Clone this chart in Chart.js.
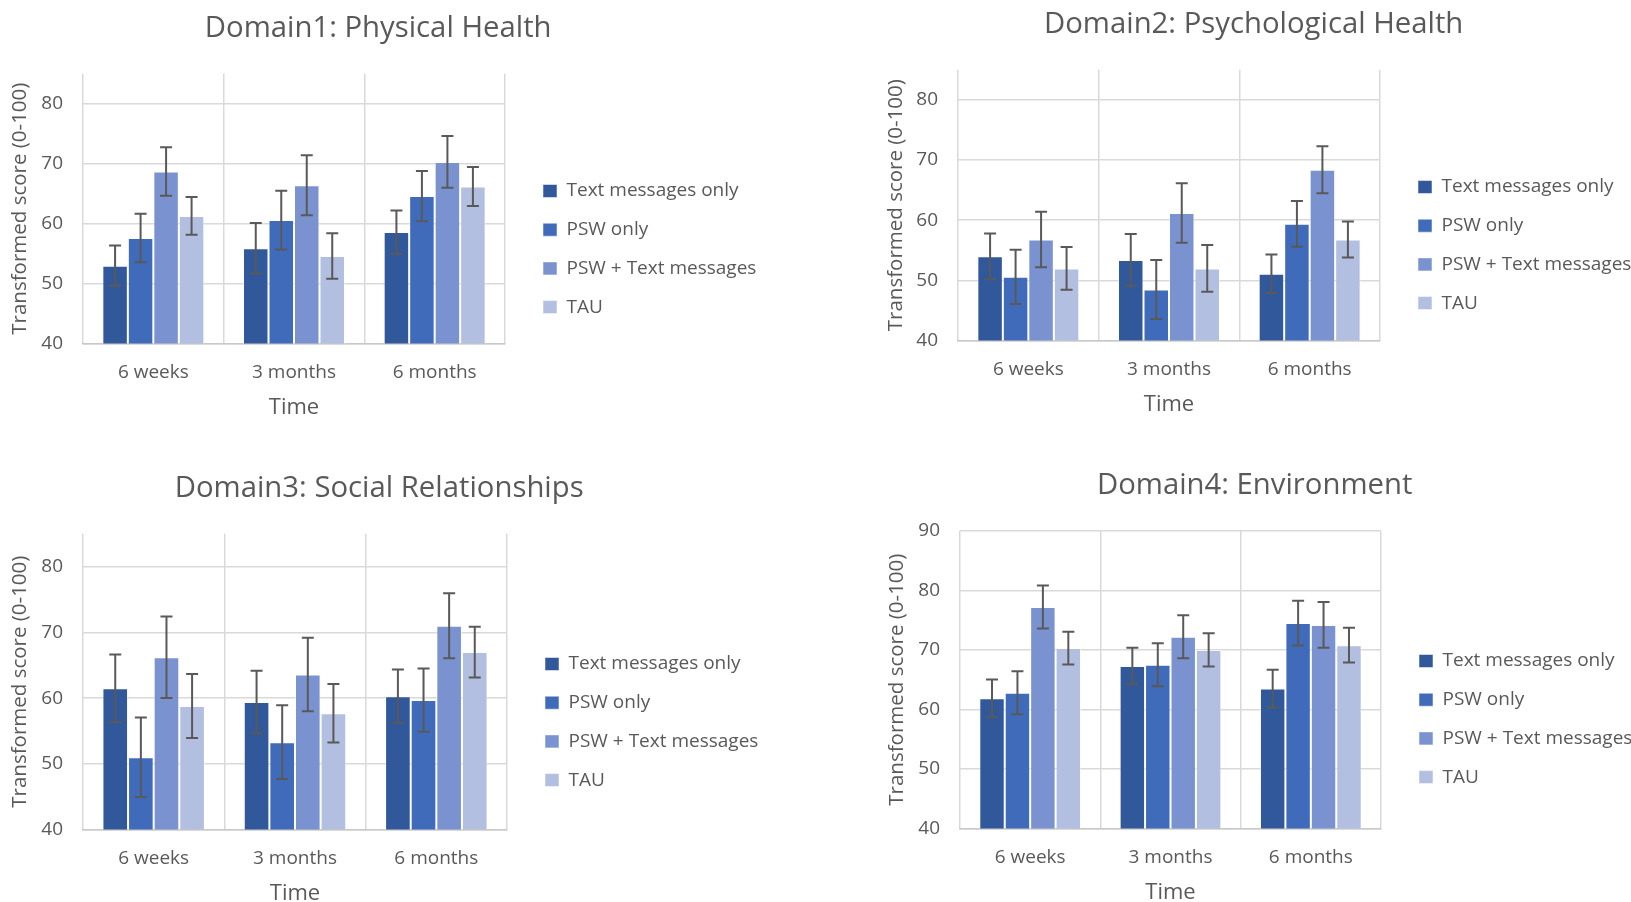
<!DOCTYPE html>
<html>
<head>
<meta charset="utf-8">
<script src="https://cdn.jsdelivr.net/npm/chart.js@4.4.1/dist/chart.umd.min.js"></script>
<style>
  body { margin: 0; background: #fff; overflow: hidden; width: 1631px; height: 902px; }
  canvas { position: absolute; }
</style>
</head>
<body>
<canvas id="c1"></canvas>
<canvas id="c2"></canvas>
<canvas id="c3"></canvas>
<canvas id="c4"></canvas>
<script>
const timepoints = ['6 weeks', '3 months', '6 months'];
const groups = ['Text messages only', 'PSW only', 'PSW + Text messages', 'TAU'];
const groupColors = ['#31589B', '#406BBA', '#7A93D0', '#B3BFE0'];
const yTickValues = [40, 50, 60, 70, 80, 90];

// rows = groups, columns = timepoints
const physicalMeans = [[53.0, 55.9, 58.6], [57.6, 60.6, 64.6], [68.7, 66.4, 70.3], [61.3, 54.6, 66.2]];
const physicalErr   = [[3.35, 4.2, 3.6], [4.05, 4.9, 4.2], [4.05, 5.0, 4.3], [3.15, 3.8, 3.25]];

const psychMeans = [[54.0, 53.4, 51.1], [50.6, 48.5, 59.4], [56.8, 61.2, 68.4], [52.0, 52.0, 56.8]];
const psychErr   = [[3.8, 4.3, 3.2], [4.5, 4.9, 3.8], [4.6, 4.95, 3.9], [3.55, 3.9, 3.0]];

const socialMeans = [[61.5, 59.4, 60.3], [51.0, 53.3, 59.7], [66.2, 63.6, 71.0], [58.8, 57.7, 67.0]];
const socialErr   = [[5.15, 4.75, 4.05], [6.05, 5.6, 4.8], [6.2, 5.6, 4.95], [4.85, 4.45, 3.85]];

const envMeans = [[61.9, 67.3, 63.5], [62.8, 67.5, 74.5], [77.2, 72.2, 74.2], [70.3, 70.0, 70.8]];
const envErr   = [[3.15, 3.05, 3.15], [3.6, 3.6, 3.75], [3.6, 3.6, 3.85], [2.75, 2.8, 2.9]];

const textColor = '#595959';
const gridColor = '#D9D9D9';
const fontFamily = "'Open Sans', sans-serif";

// draws the +/- bars on top of each bar using the chart's own y scale
const errorBars = {
  id: 'errorBars',
  afterDatasetsDraw(chart) {
    const ctx = chart.ctx;
    const y = chart.scales.y;
    ctx.save();
    ctx.strokeStyle = '#595959';
    ctx.lineWidth = 2;
    chart.data.datasets.forEach((ds, i) => {
      chart.getDatasetMeta(i).data.forEach((bar, j) => {
        const top = y.getPixelForValue(ds.data[j] + ds.errors[j]);
        const bot = y.getPixelForValue(ds.data[j] - ds.errors[j]);
        ctx.beginPath();
        ctx.moveTo(bar.x, top); ctx.lineTo(bar.x, bot);
        ctx.moveTo(bar.x - 6, top); ctx.lineTo(bar.x + 6, top);
        ctx.moveTo(bar.x - 6, bot); ctx.lineTo(bar.x + 6, bot);
        ctx.stroke();
      });
    });
    ctx.restore();
  }
};

// legendTop: empty legend title height that pushes the first legend row down
const panels = [
  { id: 'c1', title: 'Domain1: Physical Health', means: physicalMeans, errs: physicalErr, yMax: 85,
    left: 0, top: 0, w: 759, h: 421, padR: 2.7, yW: 83, gap: 18.3, legendTop: 161.8,
    titlePad: { top: 11.3, bottom: 27.3 } },
  { id: 'c2', title: 'Domain2: Psychological Health', means: psychMeans, errs: psychErr, yMax: 85,
    left: 876, top: 0, w: 756, h: 418, padR: 0.7, yW: 82, gap: 18.3, legendTop: 157.8,
    titlePad: { top: 7.3, bottom: 27.3 } },
  { id: 'c3', title: 'Domain3: Social Relationships', means: socialMeans, errs: socialErr, yMax: 85,
    left: 0, top: 450, w: 760, h: 457, padR: 1.7, yW: 83, gap: 18.3, legendTop: 184.8,
    titlePad: { top: 21.3, bottom: 27.3 } },
  { id: 'c4', title: 'Domain4: Environment', means: envMeans, errs: envErr, yMax: 90,
    left: 877, top: 450, w: 756, h: 456, padR: 0.7, yW: 83, gap: 18.3, legendTop: 181.8,
    titlePad: { top: 18.3, bottom: 27.3 } }
];

panels.forEach(p => {
  const canvas = document.getElementById(p.id);
  canvas.width = p.w;
  canvas.height = p.h;
  canvas.style.left = p.left + 'px';
  canvas.style.top = p.top + 'px';

  new Chart(canvas, {
    type: 'bar',
    data: {
      labels: timepoints,
      datasets: groups.map((g, i) => ({
        label: g,
        data: p.means[i],
        errors: p.errs[i],
        backgroundColor: groupColors[i],
        borderColor: 'rgba(255,255,255,0.5)',
        borderWidth: 1,
        categoryPercentage: 0.725,
        barPercentage: 1.0
      }))
    },
    options: {
      responsive: false,
      animation: false,
      layout: { padding: { left: 0, top: 0, bottom: 0, right: p.padR } },
      plugins: {
        title: {
          display: true,
          text: p.title,
          color: textColor,
          font: { family: fontFamily, size: 29.3, weight: 'normal' },
          padding: p.titlePad
        },
        legend: {
          position: 'right',
          align: 'start',
          maxWidth: 233,
          title: { display: true, text: '', font: { size: 10, lineHeight: 1 }, padding: { top: p.legendTop - 10, bottom: 0 } },
          labels: {
            color: textColor,
            font: { family: fontFamily, size: 19 },
            boxWidth: 14,
            boxHeight: 13,
            padding: 19.7
          }
        },
        tooltip: { enabled: false }
      },
      scales: {
        x: {
          grid: { color: gridColor, lineWidth: 1.5, drawTicks: false },
          border: { color: '#C8C8C8', width: 1.5 },
          ticks: { color: textColor, font: { family: fontFamily, size: 19 }, padding: 17.6 },
          afterFit: axis => { axis.height = 77.4; },
          title: {
            display: true, text: 'Time', color: textColor,
            font: { family: fontFamily, size: 22 }, padding: { top: 4, bottom: 0 }
          }
        },
        y: {
          min: 40,
          max: p.yMax,
          grid: { color: gridColor, lineWidth: 1.5, drawTicks: false },
          border: { display: false },
          ticks: { color: textColor, font: { family: fontFamily, size: 19 }, padding: 20 },
          afterBuildTicks: axis => {
            axis.ticks = yTickValues.filter(v => v <= p.yMax).map(v => ({ value: v }));
          },
          afterFit: axis => { axis.width = p.yW; },
          title: {
            display: true, text: 'Transformed score (0-100)', color: textColor,
            font: { family: fontFamily, size: 20.5 }, padding: { top: 8, bottom: 0 }
          }
        },
        yGap: {
          type: 'linear',
          axis: 'y',
          position: 'right',
          grid: { display: false },
          border: { display: false },
          ticks: { display: false },
          afterFit: axis => { axis.width = p.gap; }
        }
      }
    },
    plugins: [errorBars]
  });
});
</script>
</body>
</html>
